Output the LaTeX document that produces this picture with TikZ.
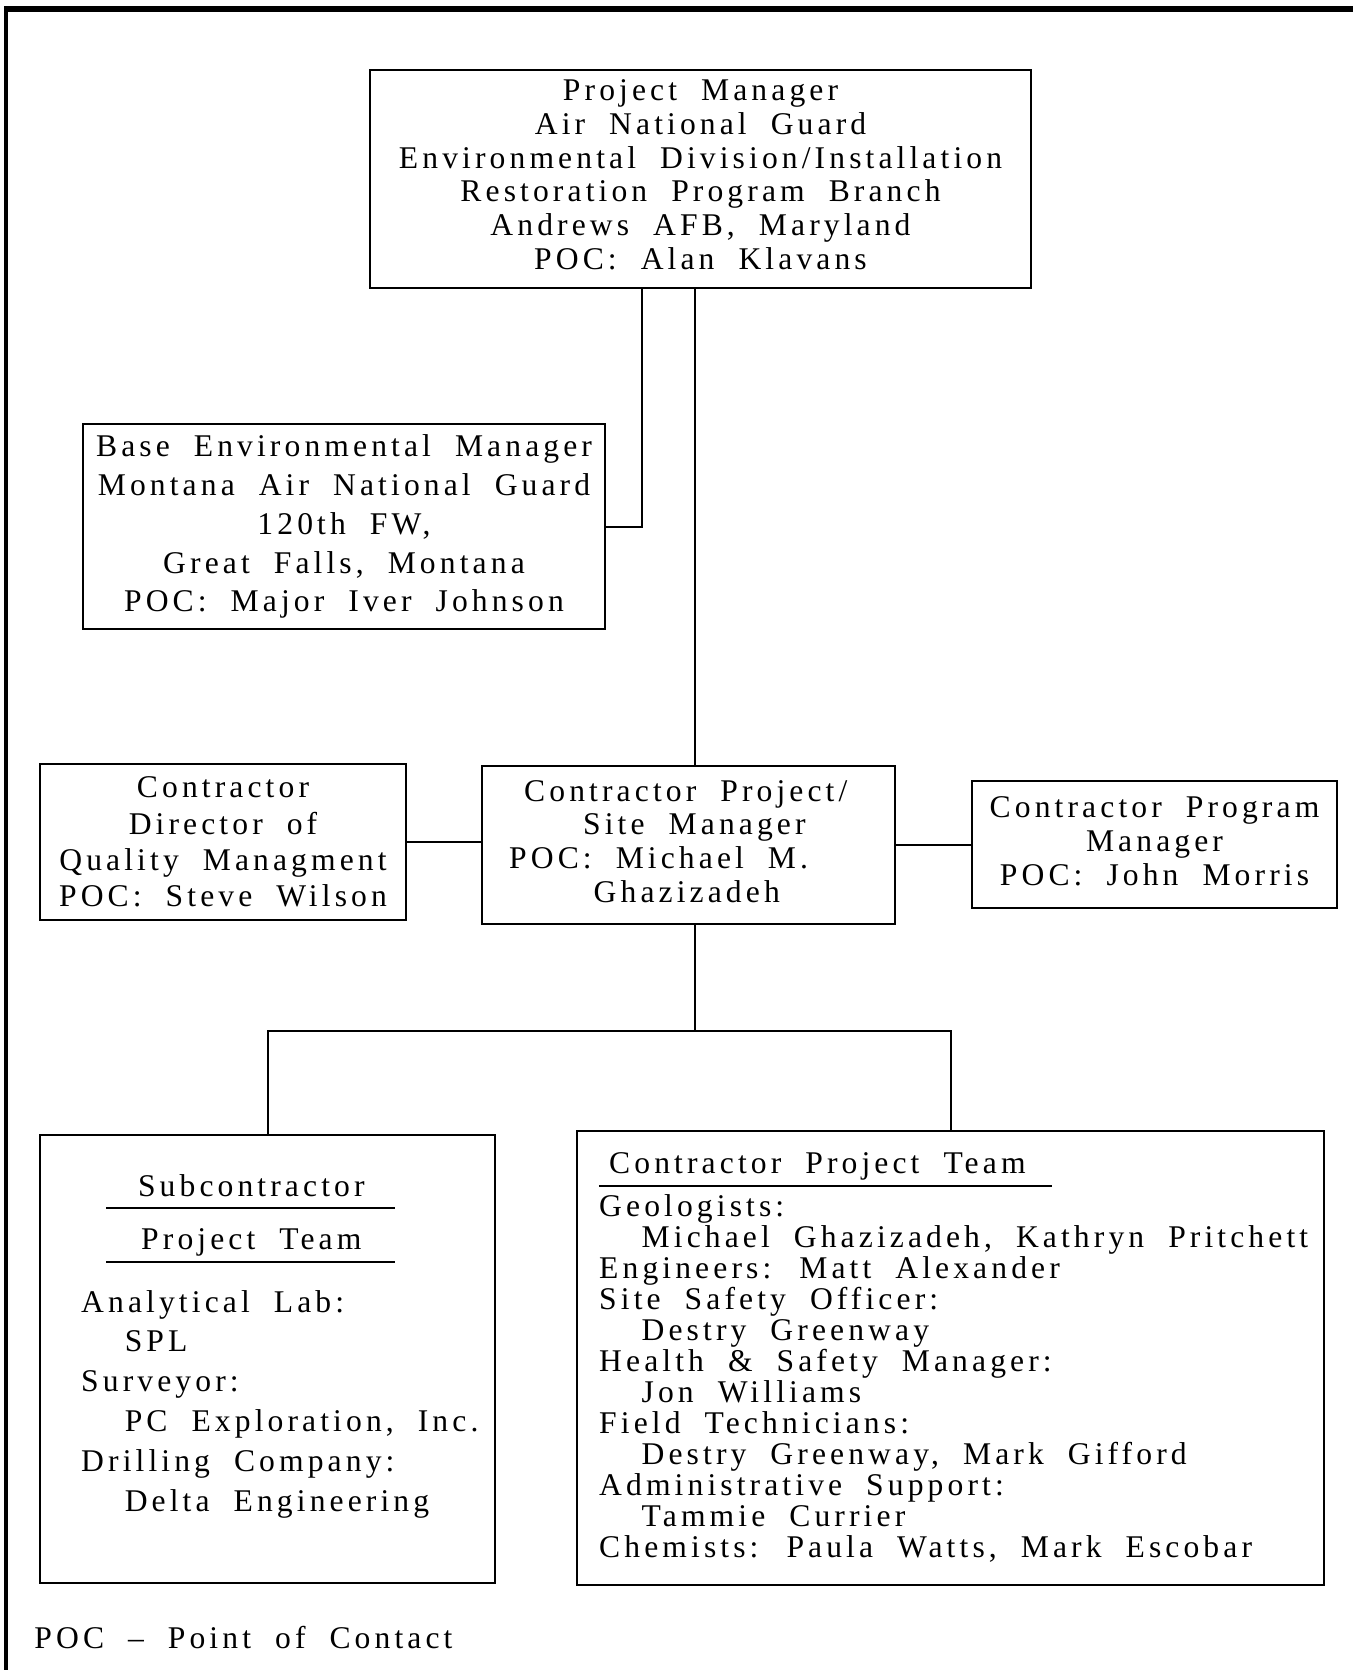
\documentclass[tikz,border=0pt]{standalone}
\usepackage{fontspec}
\setmainfont{Liberation Serif}[LetterSpace=13,WordSpace=2]
\usetikzlibrary{positioning}
\tikzset{>=latex}
\newcommand{\orgsize}[1]{\fontsize{15.8}{#1}\selectfont}
\newcommand{\lift}[1]{\rule[-#1]{0pt}{0pt}}
\tikzset{
  box/.style={draw,line width=1.2pt,inner sep=0pt,align=center},
  list/.style={inner sep=0pt,align=left,anchor=north west},
  link/.style={line width=1pt},
}

\begin{document}
\begin{tikzpicture}[x=0.5pt,y=-0.5pt]
  \useasboundingbox (0,0) rectangle (1353,1670);
  \draw[line width=2.6pt] (4,9) -- (1353,9);
  \draw[line width=2pt] (6,9) -- (6,1670);

  \node[box,minimum width=330.5pt,minimum height=109pt,font=\orgsize{16.85}] (pm) at (700.5,179)
    {Project Manager\\Air National Guard\\Environmental Division/Installation\\Restoration Program Branch\\Andrews AFB, Maryland\\POC: Alan Klavans\lift{4.5pt}};
  \node[box,minimum width=261pt,minimum height=102.5pt,font=\orgsize{19.45}] (base) at (344,526.5)
    {Base Environmental Manager\\Montana Air National Guard\\120th FW,\\Great Falls, Montana\\POC: Major Iver Johnson\lift{3.2pt}};
  \node[box,minimum width=183pt,minimum height=78pt,font=\orgsize{18.1}] (qual) at (223,842)
    {Contractor\\Director of\\Quality Managment\\POC: Steve Wilson};
  \node[box,minimum width=206.5pt,minimum height=79pt] (cpm) at (688.5,845) {};
  \node[box,minimum width=182.5pt,minimum height=63.5pt,font=\orgsize{17}] (prog) at (1154.5,844.5)
    {Contractor Program\\Manager\\POC: John Morris\lift{3.2pt}};
  \node[box,minimum width=227.5pt,minimum height=224pt] (sub) at (267.5,1359) {};
  \node[box,minimum width=373.5pt,minimum height=227pt] (team) at (950.5,1358) {};

  % contractor site manager
  \node[list,font=\orgsize{16.85}] (cpmtext) at ([shift={(28,15)}]cpm.north west)
    {\hspace*{7.5pt}Contractor Project/\\\hspace*{37pt}Site Manager\\POC: Michael M.\\\hspace*{42.25pt}Ghazizadeh};

  % subcontractor team
  \node[font=\orgsize{18}] (subhead) at ([shift={(212.5,52)}]sub.north west) {Subcontractor};
  \node[font=\orgsize{18}] (subhead2) at ([shift={(212.5,108.5)}]sub.north west) {Project Team};
  \draw[link] ([shift={(67.6,74)}]sub.north west) -- ++(289,0);
  \draw[link] ([shift={(67.6,128)}]sub.north west) -- ++(289,0);
  \node[list,font=\orgsize{19.9}] (sublist) at ([shift={(42,156)}]sub.north west)
    {Analytical Lab:\\\hspace*{21.8pt}SPL\\Surveyor:\\\hspace*{21.8pt}PC Exploration, Inc.\\Drilling Company:\\\hspace*{21.8pt}Delta Engineering};

  % contractor team
  \node[list,anchor=west,font=\orgsize{18}] (teamhead) at ([shift={(33,36.5)}]team.north west) {Contractor Project Team};
  \draw[link] ([shift={(23,56)}]team.north west) -- ++(453,0);
  \node[list,font=\orgsize{15.5}] (teamlist) at ([shift={(23,64)}]team.north west)
    {Geologists:\\\hspace*{21.25pt}Michael Ghazizadeh, Kathryn Pritchett\\Engineers: Matt Alexander\\Site Safety Officer:\\\hspace*{21.25pt}Destry Greenway\\Health \& Safety Manager:\\\hspace*{21.25pt}Jon Williams\\Field Technicians:\\\hspace*{21.25pt}Destry Greenway, Mark Gifford\\Administrative Support:\\\hspace*{21.25pt}Tammie Currier\\Chemists: Paula Watts, Mark Escobar};

  \node[inner sep=0pt,anchor=west,font=\orgsize{18}] (legend) at (34,1638) {POC \textendash\ Point of Contact};

  % connectors
  \draw[link] ([xshift=-29.25pt]pm.south) |- (base.east);
  \draw[link] ([xshift=-2.75pt]pm.south) coordinate (sp) -- (sp |- cpm.north);
  \draw[link] (qual.east) -- (qual.east -| cpm.west);
  \draw[link] (prog.west) -- (prog.west -| cpm.east);
  \coordinate (fork) at (695,1031);
  \draw[link] (sp |- cpm.south) -- (fork);
  \draw[link] (sub.north) |- (fork) -| (team.north);
\end{tikzpicture}
\end{document}
